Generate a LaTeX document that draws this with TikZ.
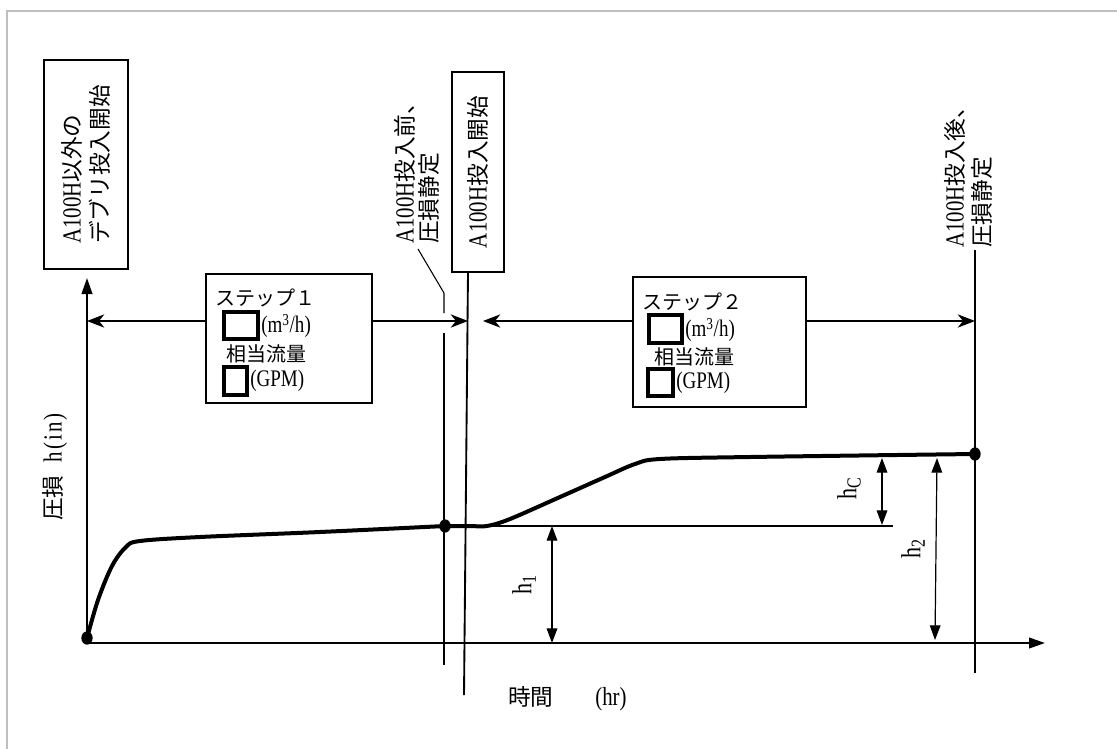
\documentclass[tikz,border=0pt]{standalone}
\usepackage{fontspec}
\setmainfont{Liberation Serif}[Scale=1.15, FakeStretch=0.8]
\newfontfamily\cjk{Noto Sans CJK JP}
\usetikzlibrary{arrows.meta,shapes.geometric}
\newcommand{\J}[1]{{\cjk #1}}
\begin{document}
\begin{tikzpicture}[x=0.75pt,y=-0.75pt,
  frame/.style={draw=black, line width=0.9pt, inner sep=0pt},
  vtext/.style={rotate=90, align=left, inner sep=0pt},
  thickbox/.style={draw=black, line width=3pt, inner sep=0pt},
  lbl/.style={inner sep=0pt, font=\fontsize{15}{18}\selectfont},
  unit/.style={inner sep=0pt, anchor=west, font=\fontsize{15.5}{18}\selectfont},
  axis/.style={line width=1.4pt, -{Triangle[length=12pt,width=8pt]}},
  dim/.style={line width=0.9pt, {Triangle[length=11pt,width=8pt]}-{Triangle[length=11pt,width=8pt]}},
  harrow/.style={line width=0.9pt, -{Stealth[length=13pt,width=10pt,inset=4pt]}},
  curve/.style={line width=3pt, line cap=round, line join=round},
  thinline/.style={line width=0.8pt},
  dotnode/.style={ellipse, fill=black, minimum width=8.5pt, minimum height=10pt, inner sep=0pt},
  hlabel/.style={rotate=90, inner sep=0pt, font=\fontsize{18}{20}\selectfont}
]
\useasboundingbox (0,0) rectangle (1117,749);
% light frame
\draw[black!25, line width=1.5pt] (1117,11) -- (7,11) -- (7,749);

% coordinates
\coordinate (O) at (87,643);
\coordinate (ytip) at (87,278);
\coordinate (xtip) at (1045,643);
\coordinate (yA) at (0,321);
\coordinate (leadA) at (418,249);
\coordinate (leadB) at (444,293);
\coordinate (gapT) at (444,313);
\coordinate (gapB) at (444,333);
\coordinate (L1bot) at (444,665);
\coordinate (L2top) at (468,272);
\coordinate (L2bot) at (464,695);
\coordinate (L3top) at (975,250);
\coordinate (L3bot) at (975,673);
\coordinate (refEnd) at (893,526);
\coordinate (h1a) at (552,526);
\coordinate (h1b) at (552,643);
\coordinate (hca) at (882,458);
\coordinate (hcb) at (882,525);
\coordinate (h2a) at (937,458);
\coordinate (h2b) at (935,640);
\coordinate (s2tip) at (483,321);

% top boxes
\node[frame, rotate=90, minimum width=156.75pt, minimum height=63pt, align=left,
      font=\fontsize{17}{21}\selectfont] (b1) at (86,164.5)
      {A100H\J{以外の}\\\J{デブリ投入開始}};
\node[frame, rotate=90, minimum width=150pt, minimum height=39pt,
      font=\fontsize{17}{20}\selectfont] (b2) at (478,172) {A100H\J{投入開始}};
\node[vtext, anchor=west, font=\fontsize{17}{18}\selectfont] (n3) at (417,244)
      {A100H\J{投入前、}\\\J{圧損静定}};
\node[vtext, anchor=west, font=\fontsize{17}{20}\selectfont] (n4) at (968.5,248)
      {A100H\J{投入後、}\\\J{圧損静定}};

% axes
\draw[axis] (O) -- (ytip);
\draw[axis] (O) -- (xtip);

% vertical lines
\draw[thinline] (leadA) -- (leadB) -- (gapT);
\draw[thinline] (gapB) -- (L1bot);
\draw[line width=1.4pt] (L2top) -- (L2bot);
\draw[thinline] (L3top) -- (L3bot);

% step boxes
\node[frame, minimum width=124.5pt, minimum height=96.75pt] (s1) at (289,338.5) {};
\node[frame, minimum width=129.75pt, minimum height=97.5pt] (s2) at (719.5,342) {};

\node[lbl, anchor=west] (s1t) at (215,298) {\J{ステップ１}};
\node[thickbox, minimum width=25.5pt, minimum height=20.25pt] (s1a) at (241,325.5) {};
\node[unit] (s1u) at (261,326) {(m\textsuperscript{3}/h)};
\node[lbl] (s1q) at (266,354) {\J{相当流量}};
\node[thickbox, minimum width=17.25pt, minimum height=21pt] (s1b) at (235.5,381) {};
\node[unit] (s1g) at (250,381) {(GPM)};

\node[lbl, anchor=west] (s2t) at (642,302) {\J{ステップ２}};
\node[thickbox, minimum width=24.75pt, minimum height=21pt] (s2a) at (665.5,329) {};
\node[unit] (s2u) at (685,330) {(m\textsuperscript{3}/h)};
\node[lbl] (s2q) at (694.5,357) {\J{相当流量}};
\node[thickbox, minimum width=18.75pt, minimum height=20.25pt] (s2b) at (660.5,382.5) {};
\node[unit] (s2g) at (676,382.5) {(GPM)};

% horizontal arrows
\draw[harrow] (s1.west |- yA) -- (O |- yA);
\draw[harrow] (s1.east |- yA) -- (L2top |- yA);
\draw[harrow] (s2.west |- yA) -- (s2tip);
\draw[harrow] (s2.east |- yA) -- (L3top |- yA);

% curve
\node[dotnode] (d0) at (87,638) {};
\node[dotnode] (d1) at (445,526) {};
\node[dotnode] (d2) at (975,454) {};
\draw[curve] plot[smooth, tension=0.55] coordinates
  {(87,638) (98,600) (112,566) (126,547) (140,541) (200,537) (320,532) (445,526)};
\draw[curve] plot[smooth, tension=0.55] coordinates
  {(445,526) (470,526) (487,526) (510,519) (560,497) (605,477) (635,464) (660,459) (750,457) (975,454)};

% reference line and dimensions
\draw[thinline] (d1) -- (refEnd);
\draw[dim] (h1a) -- (h1b);
\draw[dim] (hca) -- (hcb);
\draw[dim] (h2a) -- (h2b);
\node[hlabel] (lh1) at (524,585) {h\raisebox{-0.35ex}{\fontsize{13}{14}\selectfont 1}};
\node[hlabel] (lh2) at (913,549) {h\raisebox{-0.35ex}{\fontsize{13}{14}\selectfont 2}};
\node[hlabel] (lhc) at (849,489) {h\raisebox{-0.35ex}{\fontsize{13}{14}\selectfont C}};

% axis labels
\node[rotate=90, anchor=west, inner sep=0pt, font=\fontsize{17}{20}\selectfont] (ylab) at (55,521)
  {\J{圧損}\hspace{0.5em}h\hspace{0.08em}(\hspace{0.08em}i\hspace{0.08em}n\hspace{0.08em})};
\node[anchor=west, inner sep=0pt, font=\fontsize{17}{20}\selectfont] (xlab) at (508,699)
  {\J{時間}\hspace{1.6em}(hr)};
\end{tikzpicture}
\end{document}
